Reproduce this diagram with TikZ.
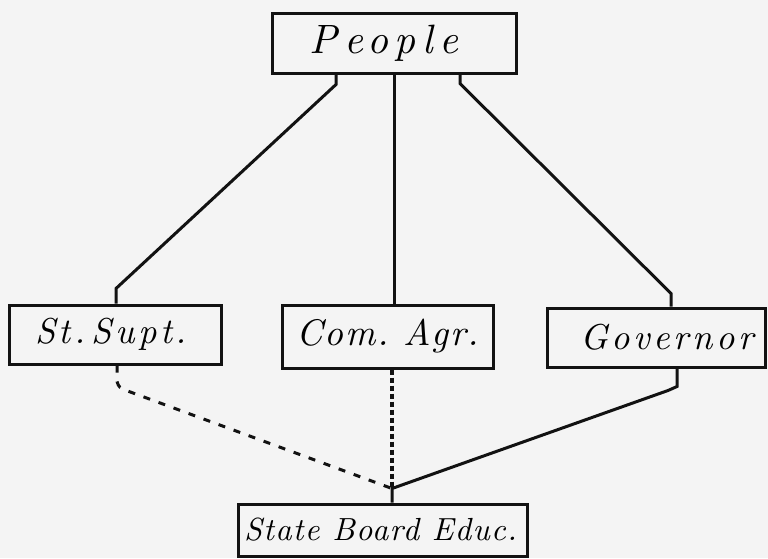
\documentclass[tikz,border=0pt]{standalone}
\usepackage{fontspec}
\usetikzlibrary{calc}
\newfontfamily\handA{lmroman10-italic.otf}[LetterSpace=16]
\newfontfamily\handB{lmroman10-italic.otf}[LetterSpace=10]
\newfontfamily\handC{lmroman10-italic.otf}[LetterSpace=5]
\newfontfamily\handD{lmroman10-italic.otf}[LetterSpace=4]
\definecolor{paper}{RGB}{244,244,244}
\definecolor{ink}{RGB}{18,18,18}
\begin{document}
\begin{tikzpicture}[x=1pt,y=-1pt,
  box/.style={draw=ink,line width=3pt,inner sep=0pt,
    font=\handB\fontsize{36}{36}\selectfont},
  conn/.style={draw=ink,line width=3pt,line join=miter},
  dashline/.style={draw=ink,line width=3pt,dash pattern=on 7pt off 9pt},
  dotline/.style={draw=ink,line width=3.2pt,dash pattern=on 5pt off 3pt}]
  % page
  \fill[paper] (0,0) rectangle (768,558);
  \useasboundingbox (0,0) rectangle (768,558);

  % offices
  \node[box,minimum width=244pt,minimum height=60pt,
        font=\handA\fontsize{41}{41}\selectfont]
        (people) at (394,43) {People\hspace*{20pt}};
  \node[box,minimum width=212pt,minimum height=59pt] (stsupt) at (115,334.5) {St.\,Supt.\hspace*{8pt}};
  \node[box,minimum width=211pt,minimum height=63pt,
        font=\handC\fontsize{37}{37}\selectfont] (comagr) at (387.5,336.5) {Com.\ Agr.};
  \node[box,minimum width=218pt,minimum height=59pt] (governor) at (656,337.5) {\hspace*{22pt}Governor};
  \node[box,minimum width=289pt,minimum height=52pt,
        font=\handD\fontsize{32}{32}\selectfont]
        (board) at (382.5,530) {State Board Educ.\hspace*{4pt}};

  % meeting point above the board
  \coordinate (j) at ([xshift=9.5pt,yshift=14pt]board.north);

  % the people elect each office
  \draw[conn] ([xshift=-58pt]people.south) -- ++(0,10)
    -- ([xshift=1pt,yshift=15pt]stsupt.north) -- ([xshift=1pt]stsupt.north);
  \draw[conn] (people.south) -- (people.south |- comagr.north);
  \draw[conn] ([xshift=66pt]people.south) -- ++(0,9)
    -- ([xshift=15pt,yshift=13pt]governor.north) -- ([xshift=15pt]governor.north);

  % members of the board
  \draw[dashline] ([xshift=2pt]stsupt.south) -- ++(0,16) .. controls ++(2,6) .. ++(12,10) -- (j);
  \draw[dotline] (j |- comagr.south) -- (j);
  \draw[conn] ([xshift=21pt]governor.south) -- ++(0,18) -- ++(-9,4) -- (j) -- (j |- board.north);
\end{tikzpicture}
\end{document}
